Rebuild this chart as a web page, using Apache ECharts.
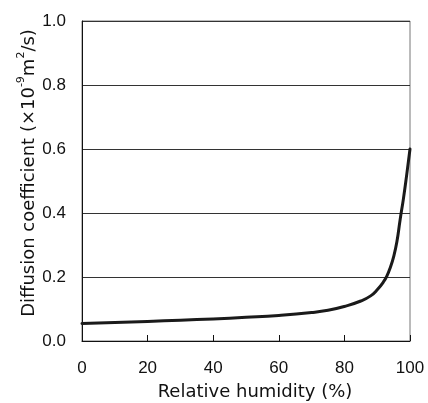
<!DOCTYPE html>
<html><head><meta charset="utf-8">
<script src="https://cdn.jsdelivr.net/npm/echarts@6/dist/echarts.min.js"></script>
<style>html,body{margin:0;padding:0;background:#fff}#c{width:428px;height:403px}</style>
</head><body><div id="c"></div>
<script>
const humidity = [0, 10, 20, 30, 40, 50, 60, 70, 75, 80, 85, 88, 90, 92, 93, 94, 95, 96, 97, 98, 99, 100];
const diffusion = [0.055, 0.058, 0.061, 0.065, 0.069, 0.074, 0.080, 0.089, 0.096, 0.108, 0.125, 0.141, 0.160, 0.186, 0.204, 0.230, 0.263, 0.310, 0.380, 0.445, 0.520, 0.600];
const xTicks = [0, 20, 40, 60, 80, 100];
const yTicks = [0.0, 0.2, 0.4, 0.6, 0.8, 1.0];

const chart = echarts.init(document.getElementById('c'), null, {renderer: 'canvas'});
const tickFont = {fontFamily: 'Liberation Sans', fontSize: 17, color: '#111'};
chart.setOption({
  animation: false,
  backgroundColor: '#fff',
  grid: {left: 82, right: 18, top: 21, bottom: 62, containLabel: false, outerBoundsMode: 'none',
         show: true, borderColor: '#777', borderWidth: 1},
  xAxis: {
    type: 'value', min: 0, max: 100, interval: 20,
    name: 'Relative humidity (%)', nameLocation: 'middle', nameGap: 42, nameMoveOverlap: false,
    nameTextStyle: {fontFamily: 'DejaVu Sans', fontSize: 18, color: '#111', padding: [0, 0, 0, 18]},
    axisLine: {show: true, lineStyle: {color: '#111', width: 1}},
    axisTick: {show: true, inside: true, length: 6, lineStyle: {color: '#111'}},
    axisLabel: Object.assign({margin: 19, formatter: v => xTicks.includes(v) ? String(v) : ''}, tickFont),
    splitLine: {show: false}
  },
  yAxis: {
    type: 'value', min: 0, max: 1, interval: 0.2,
    name: '{n|Diffusion coefficient (×10}{s|-9}{n|m}{s|2}{n|/s)}',
    nameLocation: 'middle', nameGap: 44, nameRotate: 90, nameMoveOverlap: false,
    nameTextStyle: {
      padding: [0, 0, 0, 16],
      rich: {
        n: {fontFamily: 'DejaVu Sans', fontSize: 18, color: '#111', lineHeight: 22, verticalAlign: 'bottom'},
        s: {fontFamily: 'DejaVu Sans', fontSize: 11, color: '#111', lineHeight: 22, verticalAlign: 'top'}
      }
    },
    axisLine: {show: true, lineStyle: {color: '#111', width: 1}},
    axisTick: {show: false},
    axisLabel: Object.assign({margin: 16, formatter: v => yTicks.find(t => Math.abs(t - v) < 1e-9) !== undefined ? v.toFixed(1) : ''}, tickFont),
    splitLine: {show: true, lineStyle: {color: '#333', width: 1}}
  },
  series: [{
    type: 'line',
    data: humidity.map((h, i) => [h, diffusion[i]]),
    smooth: 0.5,
    showSymbol: false,
    lineStyle: {color: '#1a1a1a', width: 3, cap: 'round', join: 'round'}
  }]
});
</script></body></html>
